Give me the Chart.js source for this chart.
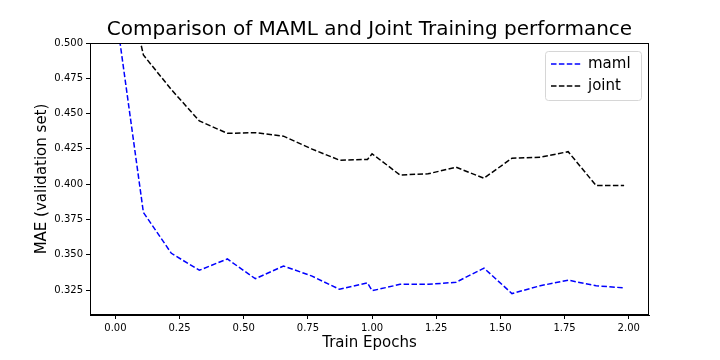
<!DOCTYPE html>
<html>
<head>
<meta charset="utf-8">
<script src="https://cdn.jsdelivr.net/npm/chart.js@4.4.1/dist/chart.umd.min.js"></script>
<style>
  html, body { margin: 0; padding: 0; background: #fff; }
  #wrap { width: 720px; height: 360px; }
</style>
</head>
<body>
<div id="wrap"><canvas id="chart_1" width="720" height="360"></canvas></div>
<script>
// values
const epochs = [0, 0.109, 0.218, 0.327, 0.436, 0.545, 0.655, 0.764, 0.873, 0.982,
                1.0, 1.109, 1.218, 1.327, 1.436, 1.545, 1.655, 1.764, 1.873, 1.982]
const maml = [0.524, 0.380, 0.351, 0.339, 0.347, 0.333, 0.342, 0.335, 0.3255, 0.330,
              0.3245, 0.329, 0.329, 0.3305, 0.3405, 0.3225, 0.328, 0.332, 0.328, 0.3265]
const joint = [0.58, 0.4915, 0.467, 0.4448, 0.436, 0.4365, 0.434, 0.425, 0.417, 0.4175,
               0.4215, 0.4065, 0.4073, 0.412, 0.4042, 0.4184, 0.4191, 0.423, 0.399, 0.399]
const x_ticks = [0, 0.25, 0.5, 0.75, 1.0, 1.25, 1.5, 1.75, 2.0]
const y_ticks = [0.325, 0.35, 0.375, 0.4, 0.425, 0.45, 0.475, 0.5]

const title_text = 'Comparison of MAML and Joint Training performance'
const x_label = 'Train Epochs'
const y_label = 'MAE (validation set)'
const font_name = '"DejaVu Sans", sans-serif'

function to_points(xs, ys) {
  return xs.map((x, i) => ({ x: x, y: ys[i] }))
}

// title, axis labels, top/right spines and the legend box
const extras = {
  id: 'extras',
  afterDraw(chart) {
    let ctx = chart.ctx
    let a = chart.chartArea
    ctx.save()
    ctx.fillStyle = '#000'
    ctx.textAlign = 'center'
    ctx.textBaseline = 'middle'
    ctx.font = '20px ' + font_name
    ctx.fillText(title_text, (a.left + a.right) / 2, 30)
    ctx.font = '15px ' + font_name
    ctx.fillText(x_label, (a.left + a.right) / 2, 343)
    ctx.save()
    ctx.translate(42, (a.top + a.bottom) / 2)
    ctx.rotate(-Math.PI / 2)
    ctx.fillText(y_label, 0, 0)
    ctx.restore()

    // frame
    ctx.strokeStyle = '#000'
    ctx.lineWidth = 1
    ctx.strokeRect(a.left + 0.5, a.top + 0.5, a.right - a.left - 1, a.bottom - a.top - 1)

    // legend
    let lx = 545, ly = 51, lw = 96, lh = 49
    ctx.beginPath()
    ctx.roundRect(lx + 0.5, ly + 0.5, lw, lh, 3)
    ctx.fillStyle = 'rgba(255,255,255,0.8)'
    ctx.fill()
    ctx.strokeStyle = '#d6d6d6'
    ctx.stroke()
    chart.data.datasets.forEach((ds, i) => {
      let y = 64 + i * 22
      ctx.beginPath()
      ctx.setLineDash(ds.borderDash)
      ctx.lineWidth = ds.borderWidth
      ctx.strokeStyle = ds.borderColor
      ctx.moveTo(551, y)
      ctx.lineTo(581, y)
      ctx.stroke()
      ctx.setLineDash([])
      ctx.fillStyle = '#000'
      ctx.textAlign = 'left'
      ctx.font = '15px ' + font_name
      ctx.fillText(ds.label, 588, y)
    })
    ctx.restore()
  }
}

let ctx1 = document.getElementById('chart_1').getContext('2d')
let chart1 = new Chart(ctx1, {
  type: 'line',
  data: {
    datasets: [
      {
        label: 'maml',
        data: to_points(epochs, maml),
        borderColor: '#0000ff',
        borderWidth: 1.5,
        borderDash: [5.5, 2.4],
        pointRadius: 0,
        tension: 0,
        fill: false
      },
      {
        label: 'joint',
        data: to_points(epochs, joint),
        borderColor: '#000000',
        borderWidth: 1.5,
        borderDash: [5.5, 2.4],
        pointRadius: 0,
        tension: 0,
        fill: false
      }
    ]
  },
  options: {
    responsive: false,
    animation: false,
    layout: { padding: { top: 43, right: 71, left: 0, bottom: 0 } },
    plugins: {
      legend: { display: false },
      title: { display: false },
      tooltip: { enabled: false }
    },
    scales: {
      x: {
        type: 'linear',
        min: -0.099,
        max: 2.079,
        afterFit(s) { s.height = 45 },
        afterBuildTicks(s) { s.ticks = x_ticks.map(v => ({ value: v })) },
        grid: { display: true, drawOnChartArea: false, drawTicks: true, tickLength: 4, color: '#000' },
        border: { display: true, color: '#000', width: 1 },
        ticks: {
          color: '#000',
          font: { family: font_name, size: 10 },
          padding: 3,
          maxRotation: 0,
          callback: v => v.toFixed(2)
        }
      },
      y: {
        type: 'linear',
        min: 0.3073,
        max: 0.5,
        afterFit(s) { s.width = 90 },
        afterBuildTicks(s) { s.ticks = y_ticks.map(v => ({ value: v })) },
        grid: { display: true, drawOnChartArea: false, drawTicks: true, tickLength: 4, color: '#000' },
        border: { display: true, color: '#000', width: 1 },
        ticks: {
          color: '#000',
          font: { family: font_name, size: 10 },
          padding: 3,
          callback: v => v.toFixed(3)
        }
      }
    }
  },
  plugins: [extras]
})
</script>
</body>
</html>
